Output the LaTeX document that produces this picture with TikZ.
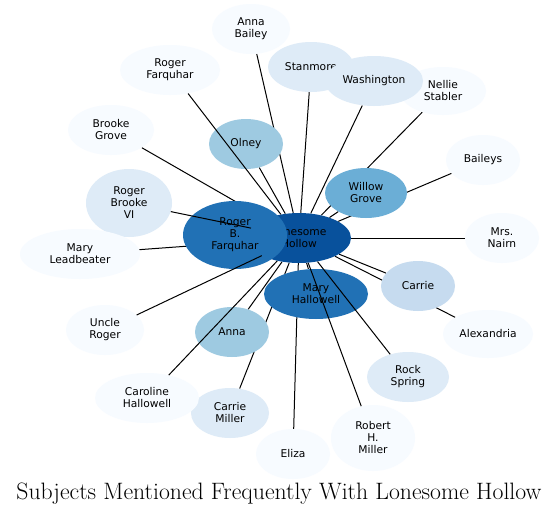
\documentclass[tikz,border=0pt]{standalone}
\usepackage{fontspec}
\newfontfamily\labelfont{DejaVu Sans}
\usepackage{tikz}
\usetikzlibrary{
  shapes.geometric,
}

\definecolor{blues0}{HTML}{F7FBFF}
\definecolor{blues1}{HTML}{DEEBF7}
\definecolor{blues2}{HTML}{C6DBEF}
\definecolor{blues3}{HTML}{9ECAE1}
\definecolor{blues4}{HTML}{6BAED6}
\definecolor{blues6}{HTML}{2171B5}
\definecolor{blues7}{HTML}{08519C}

\pgfdeclarelayer{bg}
\pgfdeclarelayer{links}
\pgfsetlayers{bg,links,main}

\begin{document}
\begin{tikzpicture}[
  x=1pt, y=-1pt,
  every node/.style={font=\labelfont\fontsize{10.7}{12}\selectfont},
  subject/.style={
    ellipse, draw=none, inner sep=0pt,
    align=center, text=black,
  },
  oval/.style 2 args={minimum width=#1pt, minimum height=#2pt},
  pale/.style={subject, fill=blues0},
  light/.style={subject, fill=blues1},
  soft/.style={subject, fill=blues2},
  mid/.style={subject, fill=blues3},
  strong/.style={subject, fill=blues4},
  deep/.style={subject, fill=blues6},
  hub/.style={subject, fill=blues7},
  link/.style={draw=black, line width=1pt},
]
  \begin{pgfonlayer}{bg}
    \fill[white] (0,0) rectangle (559,514);
  \end{pgfonlayer}

  % Centre and the most frequent subjects
  \node[hub, oval={104}{50}] (lonesome) at (299,238) {Lonesome\\Hollow};
  \node[deep, oval={104}{68}] (rbfarquhar) at (235,235) {Roger\\B.\\Farquhar};
  \node[deep, oval={104}{50}] (mhallowell) at (316,294) {Mary\\Hallowell};
  \node[strong, oval={82}{50}] (willow) at (366,193) {Willow\\Grove};
  \node[mid, oval={74}{50}] (olney) at (246,144) {Olney};
  \node[mid, oval={74}{50}] (anna) at (232,332) {Anna};
  \node[soft, oval={74}{50}] (carrie) at (418,286) {Carrie};

  % Less frequent subjects
  \node[light, oval={86}{50}] (stanmore) at (311,67) {Stanmore};
  \node[pale, oval={86}{48}] (nellie) at (443,91) {Nellie\\Stabler};
  \node[light, oval={98}{50}] (washington) at (374,81) {Washington};
  \node[light, oval={86}{68}] (rbrooke) at (129,203) {Roger\\Brooke\\VI};
  \node[light, oval={82}{50}] (rock) at (408,377) {Rock\\Spring};
  \node[light, oval={78}{50}] (cmiller) at (230,413) {Carrie\\Miller};

  % Rarest subjects
  \node[pale, oval={78}{50}] (abailey) at (251,29) {Anna\\Bailey};
  \node[pale, oval={100}{50}] (rfarquhar) at (170,70) {Roger\\Farquhar};
  \node[pale, oval={86}{50}] (bgrove) at (111,130) {Brooke\\Grove};
  \node[pale, oval={74}{50}] (baileys) at (483,160) {Baileys};
  \node[pale, oval={74}{50}] (nairn) at (502,238) {Mrs.\\Nairn};
  \node[pale, oval={120}{50}] (leadbeater) at (80,254) {Mary\\Leadbeater};
  \node[pale, oval={90}{48}] (alexandria) at (488,334) {Alexandria};
  \node[pale, oval={78}{50}] (uncle) at (105,330) {Uncle\\Roger};
  \node[pale, oval={104}{50}] (challowell) at (147,398) {Caroline\\Hallowell};
  \node[pale, oval={84}{66}] (rmiller) at (373,438) {Robert\\H.\\Miller};
  \node[pale, oval={74}{50}] (eliza) at (293,454) {Eliza};

  % Links hidden behind the ovals
  \begin{pgfonlayer}{links}
    \foreach \other in {abailey, stanmore, washington, nellie, bgrove, olney,
      baileys, willow, nairn, leadbeater, rbfarquhar, carrie, alexandria,
      mhallowell, anna, cmiller, eliza}
      \draw[link] (\other) -- (lonesome);
  \end{pgfonlayer}

  % Links drawn over the ovals
  \foreach \other in {rfarquhar, rbrooke, uncle, challowell, rock, rmiller}
    \draw[link] (\other) -- (lonesome);

  % Title
  \node[anchor=base, font=\rmfamily] (title) at (279,499)
    {\resizebox{525pt}{!}{\fontsize{20}{24}\selectfont Subjects Mentioned Frequently With Lonesome Hollow}};

\end{tikzpicture}
\end{document}
